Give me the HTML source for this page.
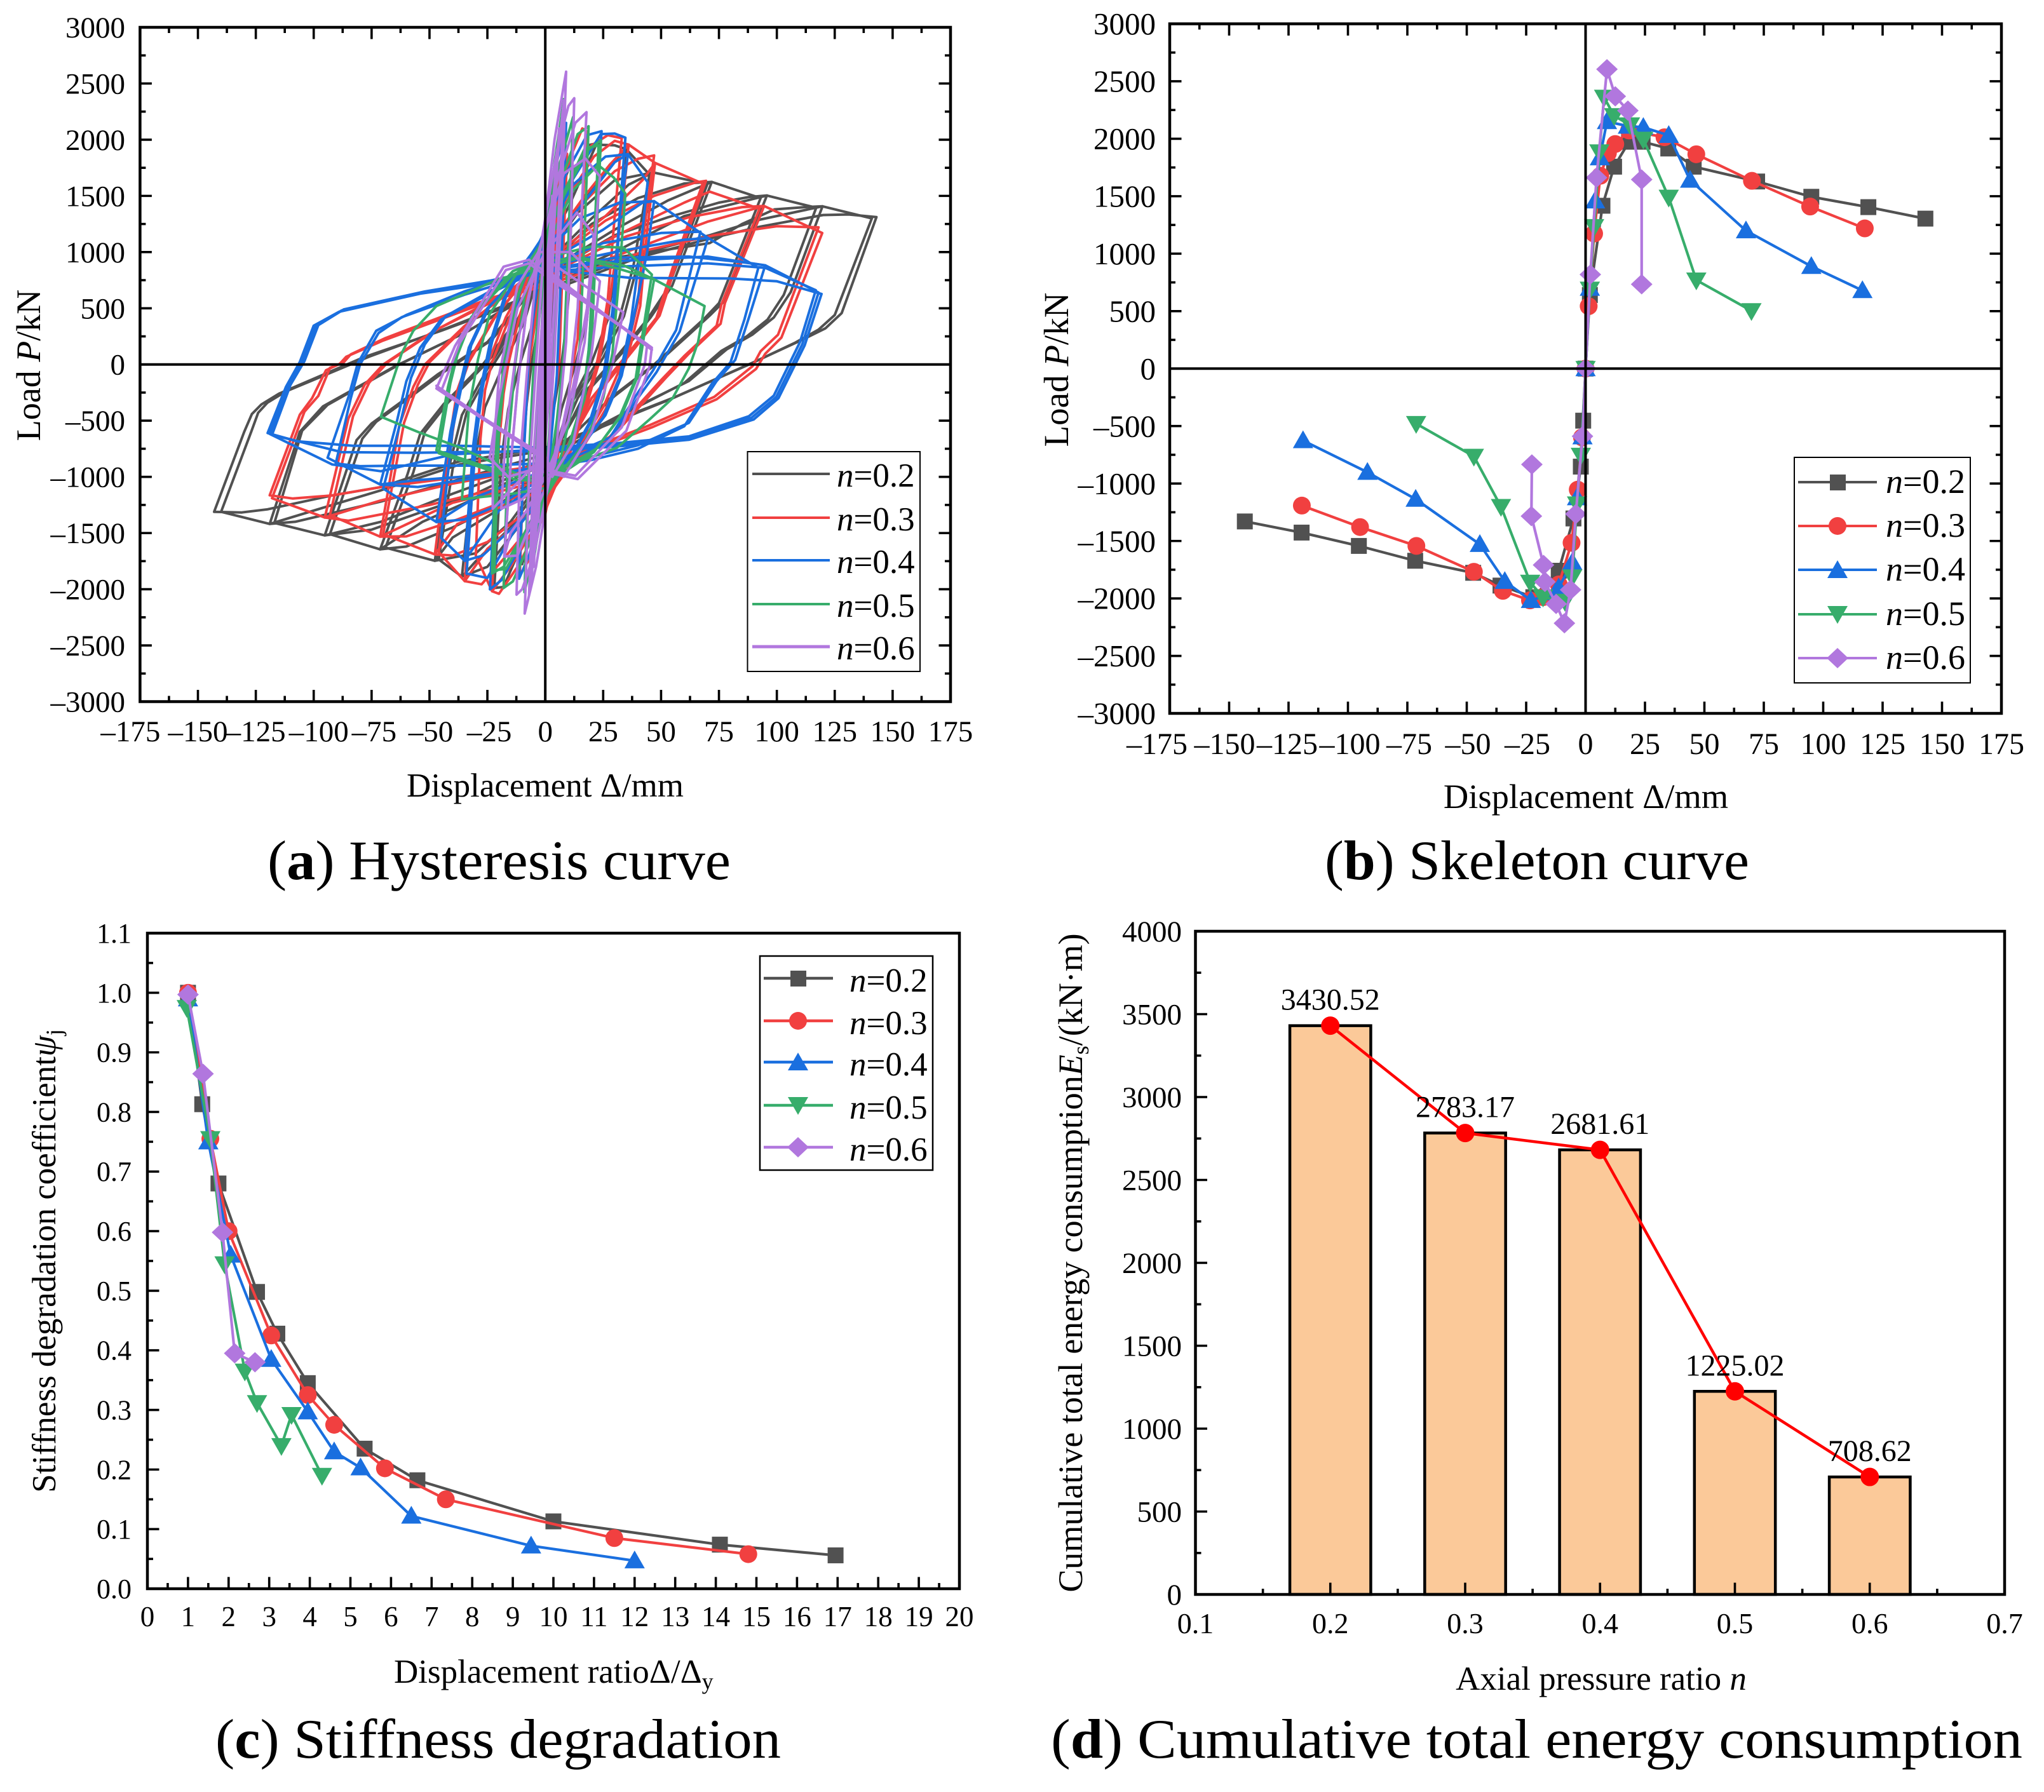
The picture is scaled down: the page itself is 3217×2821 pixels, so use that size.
<!DOCTYPE html>
<html lang="en">
<head>
<meta charset="utf-8">
<title>Hysteresis, skeleton, stiffness degradation and energy consumption charts</title>
<style>
html,body{margin:0;padding:0;background:#fff;}
svg{display:block;}
text{font-family:"Liberation Serif","Noto Serif CJK SC",serif;fill:#000;}
</style>
</head>
<body>
<svg id="figure" xmlns="http://www.w3.org/2000/svg" width="3217" height="2821" viewBox="0 0 3217 2821">
<rect x="0" y="0" width="3217" height="2821" fill="#fff"/>

<g id="panel-a">
  <g id="a-marks"></g>
  <g id="a-axes"></g>
  <text x="858" y="1254" font-size="53" text-anchor="middle">Displacement Δ/mm</text>
  <text transform="translate(63,575) rotate(-90)" font-size="54" text-anchor="middle">Load <tspan font-style="italic">P</tspan>/kN</text>
  <g>
    <rect x="1176.5" y="711" width="271.5" height="346" fill="#fff" stroke="#000" stroke-width="2"/>
    <g><line x1="1184" x2="1306" y1="746" y2="746" stroke="#515151" stroke-width="4"/><text x="1317" y="766" font-size="53"><tspan font-style="italic">n</tspan>=0.2</text></g>
    <g><line x1="1184" x2="1306" y1="815" y2="815" stroke="#F14040" stroke-width="4"/><text x="1317" y="835" font-size="53"><tspan font-style="italic">n</tspan>=0.3</text></g>
    <g><line x1="1184" x2="1306" y1="882" y2="882" stroke="#1A6FDF" stroke-width="4"/><text x="1317" y="902" font-size="53"><tspan font-style="italic">n</tspan>=0.4</text></g>
    <g><line x1="1184" x2="1306" y1="951" y2="951" stroke="#37AD6B" stroke-width="4"/><text x="1317" y="971" font-size="53"><tspan font-style="italic">n</tspan>=0.5</text></g>
    <g><line x1="1184" x2="1306" y1="1018" y2="1018" stroke="#B177DE" stroke-width="5"/><text x="1317" y="1038" font-size="53"><tspan font-style="italic">n</tspan>=0.6</text></g>
  </g>
  <text x="421" y="1384" font-size="88" textLength="729" lengthAdjust="spacingAndGlyphs">(<tspan font-weight="bold">a</tspan>) Hysteresis curve</text>
</g>

<g id="panel-b">
  <g id="b-marks"></g>
  <g id="b-axes"></g>
  <text x="2496" y="1272" font-size="54.5" text-anchor="middle">Displacement Δ/mm</text>
  <text transform="translate(1681,582) rotate(-90)" font-size="55" text-anchor="middle">Load <tspan font-style="italic">P</tspan>/kN</text>
  <g>
    <rect x="2824" y="720" width="277" height="355" fill="#fff" stroke="#000" stroke-width="2"/>
    <g><line x1="2830" x2="2954" y1="759" y2="759" stroke="#515151" stroke-width="4"/><rect x="2880" y="747" width="25" height="25" fill="#515151"/><text x="2968" y="776" font-size="54"><tspan font-style="italic">n</tspan>=0.2</text></g>
    <g><line x1="2830" x2="2954" y1="828" y2="828" stroke="#F14040" stroke-width="4"/><circle cx="2892" cy="828" r="14" fill="#F14040"/><text x="2968" y="845" font-size="54"><tspan font-style="italic">n</tspan>=0.3</text></g>
    <g><line x1="2830" x2="2954" y1="897" y2="897" stroke="#1A6FDF" stroke-width="4"/><polygon points="2892,882 2908,910 2876,910" fill="#1A6FDF"/><text x="2968" y="914" font-size="54"><tspan font-style="italic">n</tspan>=0.4</text></g>
    <g><line x1="2830" x2="2954" y1="967" y2="967" stroke="#37AD6B" stroke-width="4"/><polygon points="2892,982 2908,954 2876,954" fill="#37AD6B"/><text x="2968" y="984" font-size="54"><tspan font-style="italic">n</tspan>=0.5</text></g>
    <g><line x1="2830" x2="2954" y1="1036" y2="1036" stroke="#B177DE" stroke-width="4"/><polygon points="2892,1020 2909,1036 2892,1052 2875,1036" fill="#B177DE"/><text x="2968" y="1053" font-size="54"><tspan font-style="italic">n</tspan>=0.6</text></g>
  </g>
  <text x="2085" y="1384" font-size="88" textLength="668" lengthAdjust="spacingAndGlyphs">(<tspan font-weight="bold">b</tspan>) Skeleton curve</text>
</g>

<g id="panel-c">
  <g id="c-marks"></g>
  <g id="c-axes"></g>
  <text x="620" y="2649" font-size="53">Displacement ratioΔ/Δ<tspan font-size="36" dy="10">y</tspan></text>
  <text transform="translate(87,1985) rotate(-90)" font-size="53" text-anchor="middle">Stiffness degradation coefficient<tspan font-style="italic">ψ</tspan><tspan font-size="36" dy="10">j</tspan></text>
  <g>
    <rect x="1196" y="1505" width="272" height="337" fill="#fff" stroke="#000" stroke-width="2.5"/>
    <g><line x1="1202" x2="1311" y1="1540" y2="1540" stroke="#515151" stroke-width="4.5"/><rect x="1244" y="1528" width="25" height="25" fill="#515151"/><text x="1337" y="1561" font-size="53"><tspan font-style="italic">n</tspan>=0.2</text></g>
    <g><line x1="1202" x2="1311" y1="1607" y2="1607" stroke="#F14040" stroke-width="4.5"/><circle cx="1256" cy="1607" r="14" fill="#F14040"/><text x="1337" y="1628" font-size="53"><tspan font-style="italic">n</tspan>=0.3</text></g>
    <g><line x1="1202" x2="1311" y1="1672" y2="1672" stroke="#1A6FDF" stroke-width="4.5"/><polygon points="1256,1657 1272,1685 1240,1685" fill="#1A6FDF"/><text x="1337" y="1693" font-size="53"><tspan font-style="italic">n</tspan>=0.4</text></g>
    <g><line x1="1202" x2="1311" y1="1740" y2="1740" stroke="#37AD6B" stroke-width="4.5"/><polygon points="1256,1755 1272,1727 1240,1727" fill="#37AD6B"/><text x="1337" y="1761" font-size="53"><tspan font-style="italic">n</tspan>=0.5</text></g>
    <g><line x1="1202" x2="1311" y1="1806" y2="1806" stroke="#B177DE" stroke-width="4.5"/><polygon points="1256,1790 1273,1806 1256,1822 1239,1806" fill="#B177DE"/><text x="1337" y="1827" font-size="53"><tspan font-style="italic">n</tspan>=0.6</text></g>
  </g>
  <text x="339" y="2767" font-size="88" textLength="890" lengthAdjust="spacingAndGlyphs">(<tspan font-weight="bold">c</tspan>) Stiffness degradation</text>
</g>

<g id="panel-d">
  <g id="d-marks"></g>
  <g id="d-axes"></g>
  <g id="d-line"></g>
  <text x="2520" y="2660" font-size="53" text-anchor="middle">Axial pressure ratio <tspan font-style="italic">n</tspan></text>
  <text transform="translate(1703,1988) rotate(-90)" font-size="54" text-anchor="middle">Cumulative total energy consumption<tspan font-style="italic">E</tspan><tspan font-size="36" dy="10">s</tspan><tspan dy="-10">/(kN·m)</tspan></text>
  <text x="1654" y="2767" font-size="88" textLength="1529" lengthAdjust="spacingAndGlyphs">(<tspan font-weight="bold">d</tspan>) Cumulative total energy consumption</text>
</g>
</svg>

<script>
/* ---------- Panel (a): hysteresis loops, flat x,y lists (mm, kN) ---------- */
const hysteresisLoopsN02 = [
 [143,1311,128,457,121,322,110,210,90,20,56,-290,25,-540,0,-742,-37.6,-865,-71,-1091,-92,-1165,-120,-1289,-131,-1317,-143,-1311,-130,-599,-126.7,-441,-122.6,-356,-115,-260,-78.7,62,-45,300,0,640,40,950,71,1120,93,1227,120,1330,131,1335],
 [141,1300,125,440,118,310,108,195,88,0,54,-310,24,-560,0,-765,-37,-890,-71,-1120,-92,-1250,-119,-1419,-140,-1311,-127,-600,-124,-430,-120,-340,-112,-240,-76,70,-43,320,0,665,40,980,71,1150,93,1290,119.7,1407],
 [119.7,1407,106,644,98.7,418,89.4,265,78.4,135,62,-147,35,-420,0,-800,-40,-1040,-71,-1220,-92,-1322,-108,-1400,-119,-1419,-106,-599,-96,-373,-65,-17,-35,280,0,690,30,950,71,1080,85,1250,99,1380,112,1400],
 [117,1395,103,620,96,400,87,250,76,120,60,-165,34,-440,0,-850,-40,-1150,-71,-1400,-95.2,-1521,-117,-1410,-105,-590,-94,-360,-63,0,-33,300,0,720,30,1000,60,1320,95.7,1503],
 [95.7,1503,77.6,570,71,435,62,265,49,23,30,-280,0,-850,-30,-1150,-53,-1310,-75,-1470,-95.2,-1521,-81.5,-673,-75,-525,-60,-300,-46.6,-90,-25,200,0,790,30,1150,53,1310,75,1440,88,1490],
 [93,1480,75,545,69,415,60,245,47,0,28,-300,0,-880,-30,-1190,-53,-1400,-71.3,-1645,-93,-1510,-79,-660,-73,-510,-58,-285,-44,-70,-23,220,0,820,30,1200,53,1460,71.9,1624],
 [71.9,1624,54.8,700,45.5,418,32.9,96,20,-200,0,-920,-20,-1250,-40,-1450,-60,-1620,-71.3,-1645,-59.5,-978,-54,-616,-44,-356,-27,0,-12,400,0,860,20,1250,40,1480,60,1610],
 [70,1605,53,680,44,400,31,75,18,-225,0,-950,-20,-1290,-40,-1540,-47.7,-1747,-69,-1630,-57,-960,-52,-600,-42,-340,-25,20,-10,420,0,890,20,1300,36,1600,46.6,1709],
 [46.6,1709,40,900,34,430,25,60,14,-300,0,-977,-15,-1400,-30,-1680,-47.7,-1747,-42,-950,-36,-450,-25,-40,-13,350,0,931,14,1350,30,1640],
 [45,1690,38,870,32,410,23,40,12,-320,0,-1010,-15,-1450,-30,-1750,-36,-1888,-46,-1735,-40,-930,-34,-430,-23,-20,-11,370,0,960,14,1410,28,1780,35,1915],
 [35,1915,31,1000,27,400,20,20,10,-380,0,-1038,-10,-1400,-25,-1800,-36,-1888,-31,-900,-26,-380,-18,0,-9,383,0,1015,10,1400,22,1956,30,1950],
 [24,1974,21,1100,18,395,13,0,7,-398,0,-1094,-8,-1500,-18,-1980,-22,-1989,-19,-850,-16,-398,-11,0,-5,395,0,1046,8,1500,18,1950],
 [12,1757,10,580,9,351,7,0,4,-352,0,-967,-6,-1495,-10,-1777,-11,-1759,-9,-598,-8,-352,-6,0,-3,351,0,931,6,1511,11,1792],
 [7,1417,0,-200,-5,-1304,0,200]
];
const hysteresisLoopsN03 = [
 [118,1220,100.5,265,93,118,89.5,-15,73,-288,45,-541,0,-893,-40,-1010,-71,-1091,-92,-1165,-109,-1193,-119,-1164,-106,-447,-100.7,-300,-94.7,-51,-88.8,5,-86,68,-70.5,209,-23,571,0,700,45,1023,73,1150,100,1230],
 [119.6,1170,102,240,95,95,91,-40,74,-310,46,-560,0,-910,-40,-1060,-71,-1210,-95.2,-1362,-118,-1190,-104,-420,-98,-280,-93,-30,-87,20,-84,90,-69,235,-23,595,0,725,40,1040,70,1270,94.5,1410],
 [94.5,1410,77.6,548,75.7,362,62,96,52,-120,30,-620,0,-1000,-50,-1250,-85,-1390,-95.2,-1362,-85,-480,-78,-180,-70,0,-48,300,0,790,35,1140,62,1310,85,1400],
 [92.5,1385,76,530,74,345,60,75,50,-140,28,-640,0,-1030,-40,-1230,-71.3,-1532,-93,-1340,-83,-460,-76,-160,-68,20,-46,320,0,820,35,1190,60,1440,71,1538],
 [69.4,1634,56.5,888,49.4,435,39,153,22,-280,0,-1080,-38,-1380,-60,-1530,-71.3,-1532,-63,-540,-57,-200,-52,0,-35,340,0,880,26,1280,47,1500,65,1620],
 [68,1610,55,860,48,415,37,130,20,-300,0,-1110,-38,-1420,-47.7,-1690,-70,-1510,-61,-520,-55,-180,-50,20,-33,365,0,910,26,1320,42,1640,47.4,1793],
 [47,1860,43,1250,40,550,36,200,33,0,25,-380,14,-760,0,-1180,-25,-1580,-40,-1700,-47.7,-1690,-41,-620,-38,-230,-34,0,-23,390,0,980,17,1450,30,1720,40,1830],
 [47.4,1793,44,1200,41,520,37,180,34,-20,26,-400,15,-780,0,-1210,-25,-1640,-34.8,-1928,-46,-1670,-40,-600,-37,-210,-33,20,-22,410,0,1010,17,1500,28,1780,36,1956],
 [36,1956,33,1350,28,600,25,220,23,0,17,-420,10,-830,0,-1280,-18,-1730,-27.5,-1956,-34.8,-1928,-30,-680,-28,-250,-25,0,-17,420,0,1060,12,1560,21,1850,30,1990],
 [33,2013,30,1320,27,580,24,200,22,-20,16,-440,9,-850,0,-1300,-15,-1800,-23,-2017,-30,-1700,-28,-660,-26,-230,-23,20,-15,440,0,1080,10,1600,20,1950,27,2040],
 [18,2072,16,1400,15,620,14,230,12,0,9,-430,5,-860,0,-1330,-12,-1800,-20,-2040,-23,-2017,-20,-710,-18,-260,-16,0,-11,440,0,1090,7,1610,12,1900,16,2100],
 [9.4,1875,7,600,6,0,3,-450,0,-1250,-6,-1700,-11,-1878,-9,-650,-7,0,-4,430,0,1030,5,1600],
 [6,1678,0,-300,-6,-1516,0,300]
];
const hysteresisLoopsN04 = [
 [116.8,661,110,200,98.7,-277,88,-460,62,-640,31,-700,0,-740,-37.6,-723,-83,-723,-107,-684,-119.9,-610,-112,-200,-106,23,-100,345,-89,469,-54,630,-24,720,0,825,31,870,70,900,95,860],
 [119.3,627,112,170,100.7,-300,90,-490,62,-670,31,-730,0,-770,-56,-786,-88,-780,-118,-626,-110,-180,-104,30,-98,350,-87,490,-52,650,-24,745,0,850,37,770,80,765,100,740],
 [118,640,111,180,99.7,-290,89,-475,62,-655,31,-715,0,-755,-40,-800,-71,-950,-92,-890,-119,-618,-111,-190,-105,25,-99,347,-88,480,-53,640,-24,732,0,840,31,920,70,960,95,882],
 [95,882,88,420,82,40,74,-147,62,-520,40,-720,20,-820,0,-880,-30,-900,-60,-900,-80,-905,-90.5,-882,-84,-300,-80,0,-72,280,-62,420,-35,620,0,840,30,950,62,960,85,910],
 [92,860,86,400,80,20,72,-170,60,-550,40,-750,20,-850,0,-910,-30,-990,-56,-1030,-71.3,-1068,-94,-830,-85,-290,-81,10,-73,300,-60,440,-35,650,0,870,30,1000,60,1110,70.3,1125],
 [67,1181,56.5,305,46.6,-51,40,-250,28,-650,0,-900,-30,-1010,-55,-1090,-71.3,-1068,-64,-500,-60,-150,-54,150,-45,400,-25,620,0,870,25,1080,50,1170],
 [70.3,1125,58,290,48,-70,41,-270,27,-690,0,-940,-30,-1180,-47,-1402,-70,-1105,-62,-470,-58,-120,-52,180,-43,430,-24,650,0,900,25,1200,42,1440,47,1453],
 [47,1453,44,1000,38,400,33,-100,26,-450,15,-750,0,-1000,-20,-1250,-35,-1380,-47,-1402,-41,-600,-37,-200,-33,150,-25,500,-12,780,0,1000,15,1300,32,1440],
 [44.2,1622,41,1000,37,380,32,-120,25,-470,14,-770,0,-1030,-20,-1300,-34.8,-1747,-45,-1543,-40,-580,-36,-180,-32,170,-24,520,-11,800,0,1030,15,1400,30,1800,35.7,1871],
 [35.7,1871,32,1300,30,500,26,-100,20,-500,10,-880,0,-1120,-14,-1450,-27,-1700,-34.8,-1747,-31,-700,-28,-220,-24,180,-18,580,-9,900,0,1150,12,1600,26,1850],
 [34.6,2018,32,1300,29,480,25,-120,19,-520,9,-900,0,-1150,-14,-1500,-25,-1900,-34,-1860,-30,-680,-27,-200,-23,200,-17,600,-8,920,0,1170,12,1650,24,2050,30,2055],
 [24.3,2075,22,1350,20,520,18,-100,13,-550,6,-950,0,-1180,-10,-1600,-19,-1920,-23.9,-2001,-21,-750,-19,-240,-16,200,-11,650,-5,980,0,1200,9,1700,18,2040],
 [9,2150,7,900,5,-100,2,-800,0,-1150,-7,-1700,-11.3,-1906,-9,-700,-7,100,-3,800,0,1150,5,1800],
 [4,1460,0,-500,-5.6,-1685,0,500]
];
const hysteresisLoopsN05 = [
 [68.8,520,66,200,62,-34,55,-300,45,-490,31,-740,15,-860,0,-950,-4,-1050,-36.7,-740,-55,-600,-71,-465,-62,100,-57,300,-47,520,-20,760,0,870,15,950,34,880,47,757],
 [47,757,43,300,40,-100,33,-450,22,-750,10,-900,0,-1000,-12,-1000,-30,-880,-47,-764,-42,-200,-39,50,-32,420,-14,800,0,920,14,950,32,850],
 [46,800,42,270,39,-130,32,-470,21,-780,10,-930,0,-1030,-12,-1030,-30,-900,-46,-790,-41,-170,-38,80,-31,450,-14,830,0,950,20,1050,33.7,1040],
 [34.6,1520,32,800,29,100,25,-300,17,-700,7,-950,0,-1100,-14,-1150,-28,-1180,-36,-1201,-33,-400,-29,50,-24,450,-12,820,0,1020,12,1550,22.8,1775,29.6,1662],
 [24,1995,22,1100,20,200,17,-300,11,-700,5,-980,0,-1150,-9,-1500,-18,-1800,-23,-1860,-21,-600,-18,0,-14,500,-7,880,0,1100,8,1500,18,1900],
 [23,1950,21,1050,19,170,16,-330,10,-730,5,-1010,0,-1180,-9,-1530,-17,-1820,-22,-1830,-20,-570,-17,30,-13,530,-7,910,0,1130,8,1530,17,1920],
 [18.7,2120,17,1200,15,200,12,-350,7,-800,0,-1200,-8,-1650,-14,-1930,-18,-1989,-16,-700,-13,0,-9,600,-4,950,0,1200,7,1650,14,2050],
 [12,2200,10,1100,8,100,5,-500,0,-1200,-4,-1600,-9,-2026,-7,-800,-5,0,-2,700,0,1200,5,1700],
 [8,2360,5,800,2,-500,0,-1100,-5.6,-1814,-3,-300,0,1000,4,1800]
];
const hysteresisLoopsN06 = [
 [46,150,45,-20,35,-590,14,-1020,2.5,-970,0,-850,-47,-214,-39,164,-18,870,-7,932,0,820],
 [44,180,43,0,33,-560,13,-990,3,-950,0,-820,-45,-240,-37,190,-17,840,-7,900,0,790],
 [3,800,46,130],
 [-1,-840,-47,-190],
 [23.6,740,20,100,12,-700,3,-1000,-5,-900,-22.7,-1284,-22.6,-834,-20,-100,-12,700,-3,1000,5,1000,11,1000],
 [33.7,464,29,0,20,-600,8,-1000,0,-900,-16,-1000,-24,-830,-20,-300,-12,500,-3,900,0,950,3,900],
 [23.6,1673,21,1000,17,200,10,-500,0,-1000,-8,-1300,-15,-1500,-17.7,-1709,-15,-900,-12,-200,-8,500,-3,1000,0,1200,8,1700,17.3,1832],
 [20.9,1153,18,500,12,-200,6,-700,0,-1000,-10,-1200,-19,-1284,-17,-600,-12,200,-5,800,0,1000,8,1200,13.7,1351],
 [17.8,2245,16,1500,14,500,10,-300,4,-900,0,-1100,-6,-1400,-12,-1700,-17.7,-1709,-15,-900,-12,-200,-8,500,-3,1000,0,1200,6,1700,13,2150],
 [12.5,2369,11,1200,9,200,5,-700,0,-1200,-5,-1700,-10,-2000,-12.4,-2048,-11,-900,-8,-100,-4,800,0,1300,5,1900,10,2300],
 [9,2605,7,1400,4,100,1,-900,0,-1300,-4,-1800,-8.9,-2216,-7,-1000,-4,0,-1,900,0,1300,4,2000],
 [8,2350,5,1000,2,-200,-1,-900,-7,-2050,-5,-800,-2,200,1,1000],
 [6,2100,3,900,0,0,-3,-900,-6,-1950,-4,-900,-1,0,2,900],
 [5,1900,2,600,0,-300,-2,-800,-5,-1800,-3,-600,0,300,2,1000],
 [4.6,1662,1,-300,-6.3,-1925,-1,300],
 [3,1500,1,400,-1,-500,-3,-1400,-2,-500,0,500],
 [2,819,-4.1,-1265]
];

/* ---------- Panel (b): skeleton curves ---------- */
const skeletonDispN02 = [-143.4,-119.5,-95.4,-71.7,-47.3,-35.8,-22,-11.3,-5.1,-2,-1,0,1.8,7.1,12,18.3,24,34.8,45.5,72.2,95,119,143];
const skeletonLoadN02 = [-1330,-1427,-1543,-1672,-1777,-1888,-1989,-1759,-1304,-853,-453,0,640,1417,1757,1974,1974,1915,1757,1628,1495,1405,1305];
const skeletonDispN03 = [-119.4,-94.9,-71.2,-47,-34.8,-23.4,-17.9,-11.3,-5.9,-3.3,-1.5,0,1.3,3.6,6.2,9.4,12.5,18.3,33.2,46.6,70,94.5,117.5];
const skeletonLoadN03 = [-1192,-1379,-1543,-1768,-1934,-2017,-1989,-1878,-1516,-1053,-599,0,543,1175,1678,1875,1954,2072,2013,1865,1634,1410,1220];
const skeletonDispN04 = [-118.9,-91.8,-71.5,-44.5,-34,-23,-12.8,-11.3,-5.6,-3.6,-1.3,0,1.8,4,6,9,17.8,24.3,35,44,67.5,95,116.5];
const skeletonLoadN04 = [-626,-902,-1136,-1529,-1851,-2017,-1950,-1906,-1685,-1123,-593,0,700,1460,1835,2150,2110,2100,2030,1640,1200,890,680];
const skeletonDispN05 = [-71.3,-47,-35.6,-23.3,-17.9,-8.7,-5.6,-3.6,-2,0,1.8,3.6,5.8,7.8,12,18.7,24.3,35,46.6,69.8];
const skeletonLoadN05 = [-479,-764,-1201,-1860,-1989,-2026,-1814,-1179,-755,0,690,1235,1885,2360,2200,2120,1995,1490,770,503];
const skeletonDispN06 = [-22.6,-22.8,-17.7,-17.1,-12.4,-8.9,-6.3,-4.1,-1.3,0,2,4.6,9,12.5,17.8,23.6,23.6];
const skeletonLoadN06 = [-834,-1284,-1709,-1856,-2048,-2216,-1925,-1265,-589,0,819,1662,2605,2369,2245,1645,734];

/* ---------- Panel (c): stiffness degradation ---------- */
const stiffRatioN02 = [1,1.35,1.75,2.7,3.2,3.95,5.35,6.65,10,14.1,16.95];
const stiffCoefN02  = [1,0.813,0.68,0.498,0.428,0.345,0.235,0.182,0.113,0.074,0.056];
const stiffRatioN03 = [1,1.55,2,3.05,3.95,4.6,5.85,7.35,11.5,14.8];
const stiffCoefN03  = [1,0.755,0.6,0.425,0.325,0.275,0.202,0.15,0.085,0.058];
const stiffRatioN04 = [1,1.5,2.05,3.05,3.95,4.6,5.25,6.5,9.45,12];
const stiffCoefN04  = [0.99,0.75,0.56,0.385,0.297,0.23,0.203,0.122,0.072,0.047];
const stiffRatioN05 = [0.97,1.55,1.9,2.4,2.7,3.3,3.55,4.3];
const stiffCoefN05  = [0.975,0.755,0.545,0.365,0.312,0.24,0.292,0.19];
const stiffRatioN06 = [1,1.37,1.85,2.15,2.65];
const stiffCoefN06  = [0.997,0.864,0.598,0.395,0.38];

/* ---------- Panel (d): cumulative energy ---------- */
const energyRatios = [0.2,0.3,0.4,0.5,0.6];
const energyValues = [3430.52,2783.17,2681.61,1225.02,708.62];
const energyLabels = ['3430.52','2783.17','2681.61','1225.02','708.62'];

/* ---------- Tick labels ---------- */
const dispTicks = [-175,-150,-125,-100,-75,-50,-25,0,25,50,75,100,125,150,175];
const loadTicks = [-3000,-2500,-2000,-1500,-1000,-500,0,500,1000,1500,2000,2500,3000];
const ratioTicks = [0,1,2,3,4,5,6,7,8,9,10,11,12,13,14,15,16,17,18,19,20];
const coefTicks = [0,0.1,0.2,0.3,0.4,0.5,0.6,0.7,0.8,0.9,1.0,1.1];
const pressureTicks = [0.1,0.2,0.3,0.4,0.5,0.6,0.7];
const energyTicks = [0,500,1000,1500,2000,2500,3000,3500,4000];

const NS = 'http://www.w3.org/2000/svg';
const GRAY = '#515151', RED = '#F14040', BLUE = '#1A6FDF', GREEN = '#37AD6B', PURPLE = '#B177DE';

function make(tag, attrs, parent) {
  const node = document.createElementNS(NS, tag);
  for (const k in attrs) node.setAttribute(k, attrs[k]);
  parent.appendChild(node);
  return node;
}
function scale(d0, d1, r0, r1) {
  return function (v) { return r0 + (v - d0) * (r1 - r0) / (d1 - d0); };
}
function fmtInt(v) { return String(v).replace('-', '\u2013'); }
function fmt1(v) { return v.toFixed(1); }

function drawTickLine(g, x1, y1, x2, y2, w) {
  const el = make('line', { x1: x1, y1: y1, x2: x2, y2: y2, stroke: '#000', 'stroke-width': w }, g);
  
  
}
function drawTickLabel(g, x, y, anchor, size, str) {
  const el = make('text', { x: x, y: y, 'text-anchor': anchor, 'font-size': size }, g);
  el.textContent = str;
  
  
}

function drawAxes(g, o) {
  const L = o.xs(o.xTicks[0]), R = o.xs(o.xTicks[o.xTicks.length - 1]);
  const T = o.ys(o.yTicks[o.yTicks.length - 1]), B = o.ys(o.yTicks[0]);
  const frame = make('rect', { x: L, y: T, width: R - L, height: B - T, fill: 'none', stroke: '#000', 'stroke-width': 4.5 }, g);
  
  
  const major = 18.5, minor = 9, w = 3.6;
  const nudge = o.labelNudge || {};
  o.xTicks.forEach(function (v, i) {
    const x = o.xs(v);
    drawTickLine(g, x, B, x, B - major, w);
    if (o.mirror) drawTickLine(g, x, T, x, T + major, w);
    drawTickLabel(g, x + (nudge[v] || 0), o.xLabelY, 'middle', o.xFont, o.xFmt(v));
    if (i < o.xTicks.length - 1) {
      const m = o.xs((v + o.xTicks[i + 1]) / 2);
      drawTickLine(g, m, B, m, B - minor, w);
      if (o.mirror) drawTickLine(g, m, T, m, T + minor, w);
    }
  });
  o.yTicks.forEach(function (v, i) {
    const y = o.ys(v);
    drawTickLine(g, L, y, L + major, y, w);
    if (o.mirror) drawTickLine(g, R, y, R - major, y, w);
    drawTickLabel(g, o.yLabelX, y + o.yFont * 0.34, 'end', o.yFont, o.yFmt(v));
    if (i < o.yTicks.length - 1) {
      const m = o.ys((v + o.yTicks[i + 1]) / 2);
      drawTickLine(g, L, m, L + minor, m, w);
      if (o.mirror) drawTickLine(g, R, m, R - minor, m, w);
    }
  });
  if (o.zeroLines) {
    const h = make('line', { x1: L, x2: R, y1: o.ys(0), y2: o.ys(0), stroke: '#000', 'stroke-width': 4 }, g);
    
    
    const v = make('line', { x1: o.xs(0), x2: o.xs(0), y1: T, y2: B, stroke: '#000', 'stroke-width': 4 }, g);
    
    
  }
}

function drawMarker(g, shape, cx, cy, color) {
  let el;
  if (shape === 'square') {
    el = make('rect', { x: cx - 12.5, y: cy - 12.5, width: 25, height: 25, fill: color }, g);
  } else if (shape === 'circle') {
    el = make('circle', { cx: cx, cy: cy, r: 14, fill: color }, g);
  } else if (shape === 'up') {
    el = make('polygon', { points: cx + ',' + (cy - 16) + ' ' + (cx + 16) + ',' + (cy + 12) + ' ' + (cx - 16) + ',' + (cy + 12), fill: color }, g);
  } else if (shape === 'down') {
    el = make('polygon', { points: cx + ',' + (cy + 16) + ' ' + (cx + 16) + ',' + (cy - 12) + ' ' + (cx - 16) + ',' + (cy - 12), fill: color }, g);
  } else {
    el = make('polygon', { points: cx + ',' + (cy - 16) + ' ' + (cx + 17) + ',' + cy + ' ' + cx + ',' + (cy + 16) + ' ' + (cx - 17) + ',' + cy, fill: color }, g);
  }
  
  
}

function drawLineSeries(g, xsData, ysData, xs, ys, color, shape, seriesName) {
  const sg = make('g', {}, g);
  
  
  const pts = xsData.map(function (v, i) { return xs(v) + ',' + ys(ysData[i]); }).join(' ');
  const line = make('polyline', { points: pts, fill: 'none', stroke: color, 'stroke-width': 4.2, 'stroke-linejoin': 'round' }, sg);
  
  
  xsData.forEach(function (v, i) { drawMarker(sg, shape, xs(v), ys(ysData[i]), color); });
}

/* ----- panel a ----- */
(function () {
  const xs = scale(-175, 175, 220.4, 1496), ys = scale(-3000, 3000, 1104.5, 43);
  const marks = document.getElementById('a-marks');
  function drawLoops(loops, color, seriesName) {
    const sg = make('g', {}, marks);
    
    
    loops.forEach(function (loop) {
      let d = '';
      for (let i = 0; i < loop.length; i += 2) {
        d += (i === 0 ? 'M' : 'L') + xs(loop[i]).toFixed(1) + ' ' + ys(loop[i + 1]).toFixed(1);
      }
      const p = make('path', { d: d + 'Z', fill: 'none', stroke: color, 'stroke-width': 4, 'stroke-linejoin': 'round' }, sg);
      
      
    });
  }
  drawLoops(hysteresisLoopsN02, GRAY, 'hysteresis-series-n02');
  drawLoops(hysteresisLoopsN03, RED, 'hysteresis-series-n03');
  drawLoops(hysteresisLoopsN04, BLUE, 'hysteresis-series-n04');
  drawLoops(hysteresisLoopsN05, GREEN, 'hysteresis-series-n05');
  drawLoops(hysteresisLoopsN06, PURPLE, 'hysteresis-series-n06');
  drawAxes(document.getElementById('a-axes'), {
    xs: xs, ys: ys, xTicks: dispTicks, yTicks: loadTicks, xFmt: fmtInt, yFmt: fmtInt,
    xFont: 47, yFont: 47, xLabelY: 1167, yLabelX: 197, mirror: true, zeroLines: true,
    labelNudge: { '-175': -15, '-100': 8, '-75': 4, '-50': 2, '-25': 3 }
  });
})();

/* ----- panel b ----- */
(function () {
  const xs = scale(-175, 175, 1841, 3150), ys = scale(-3000, 3000, 1123, 37.5);
  const marks = document.getElementById('b-marks');
  drawLineSeries(marks, skeletonDispN02, skeletonLoadN02, xs, ys, GRAY, 'square', 'skeleton-series-n02');
  drawLineSeries(marks, skeletonDispN03, skeletonLoadN03, xs, ys, RED, 'circle', 'skeleton-series-n03');
  drawLineSeries(marks, skeletonDispN04, skeletonLoadN04, xs, ys, BLUE, 'up', 'skeleton-series-n04');
  drawLineSeries(marks, skeletonDispN05, skeletonLoadN05, xs, ys, GREEN, 'down', 'skeleton-series-n05');
  drawLineSeries(marks, skeletonDispN06, skeletonLoadN06, xs, ys, PURPLE, 'diamond', 'skeleton-series-n06');
  drawAxes(document.getElementById('b-axes'), {
    xs: xs, ys: ys, xTicks: dispTicks, yTicks: loadTicks, xFmt: fmtInt, yFmt: fmtInt,
    xFont: 48, yFont: 49, xLabelY: 1187, yLabelX: 1819, mirror: true, zeroLines: true,
    labelNudge: { '-175': -20, '-150': -7, '-125': -2, '-100': 3, '-75': 3, '-50': 2, '-25': 2 }
  });
})();

/* ----- panel c ----- */
(function () {
  const xs = scale(0, 20, 232, 1510), ys = scale(0, 1.1, 2501, 1469);
  const marks = document.getElementById('c-marks');
  drawLineSeries(marks, stiffRatioN02, stiffCoefN02, xs, ys, GRAY, 'square', 'stiffness-series-n02');
  drawLineSeries(marks, stiffRatioN03, stiffCoefN03, xs, ys, RED, 'circle', 'stiffness-series-n03');
  drawLineSeries(marks, stiffRatioN04, stiffCoefN04, xs, ys, BLUE, 'up', 'stiffness-series-n04');
  drawLineSeries(marks, stiffRatioN05, stiffCoefN05, xs, ys, GREEN, 'down', 'stiffness-series-n05');
  drawLineSeries(marks, stiffRatioN06, stiffCoefN06, xs, ys, PURPLE, 'diamond', 'stiffness-series-n06');
  drawAxes(document.getElementById('c-axes'), {
    xs: xs, ys: ys, xTicks: ratioTicks, yTicks: coefTicks, xFmt: fmtInt, yFmt: fmt1,
    xFont: 45, yFont: 44, xLabelY: 2560, yLabelX: 207, mirror: false, zeroLines: false
  });
})();

/* ----- panel d ----- */
(function () {
  const xs = scale(0.1, 0.7, 1881.5, 3155), ys = scale(0, 4000, 2510, 1466);
  const barWidth = 0.06;
  const marks = document.getElementById('d-marks');
  energyRatios.forEach(function (n, i) {
    const x0 = xs(n - barWidth / 2), x1 = xs(n + barWidth / 2), top = ys(energyValues[i]);
    const bar = make('rect', { x: x0, y: top, width: x1 - x0, height: ys(0) - top, fill: '#FBC999', stroke: '#000', 'stroke-width': 4.5 }, marks);
    
    
  });
  drawAxes(document.getElementById('d-axes'), {
    xs: xs, ys: ys, xTicks: pressureTicks, yTicks: energyTicks, xFmt: fmt1, yFmt: fmtInt,
    xFont: 46, yFont: 47, xLabelY: 2571, yLabelX: 1860, mirror: false, zeroLines: false
  });
  const lg = document.getElementById('d-line');
  const pts = energyRatios.map(function (n, i) { return xs(n) + ',' + ys(energyValues[i]); }).join(' ');
  const line = make('polyline', { points: pts, fill: 'none', stroke: '#FF0000', 'stroke-width': 4.5 }, lg);
  
  
  energyRatios.forEach(function (n, i) {
    const dot = make('circle', { cx: xs(n), cy: ys(energyValues[i]), r: 14.5, fill: '#FF0000' }, lg);
    
    
    const lab = make('text', { x: xs(n), y: ys(energyValues[i]) - 25, 'text-anchor': 'middle', 'font-size': 48 }, lg);
    lab.textContent = energyLabels[i];
    
    
  });
})();
</script>
</body>
</html>
